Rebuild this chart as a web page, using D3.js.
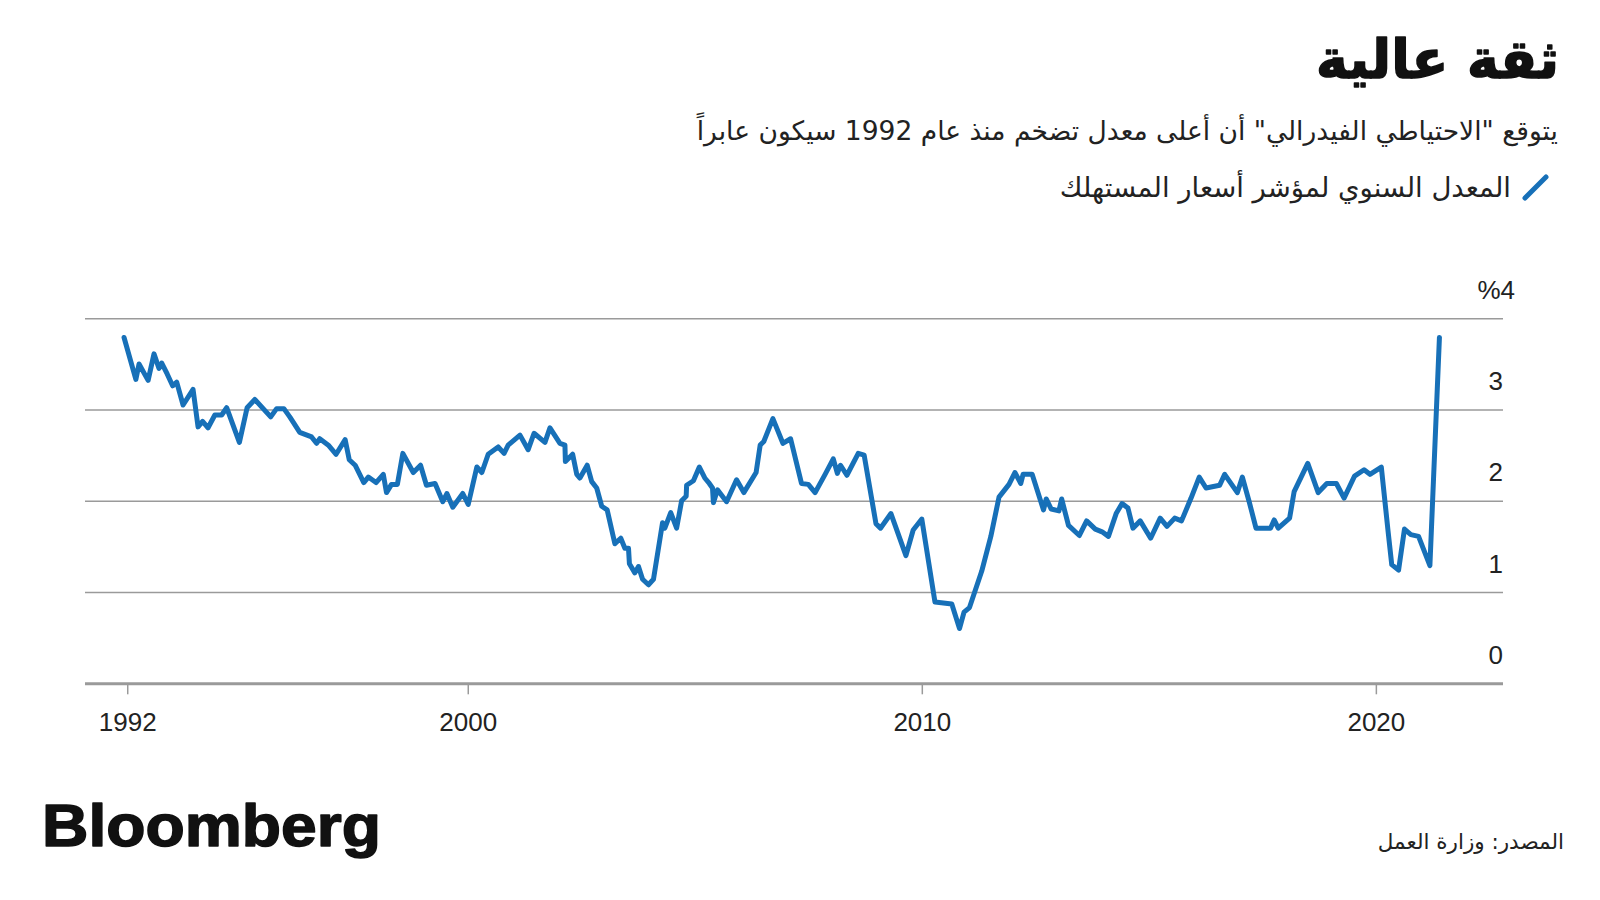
<!DOCTYPE html>
<html><head><meta charset="utf-8">
<script src="https://cdn.jsdelivr.net/npm/d3@7"></script>
<style>body{margin:0;background:#fff} svg{display:block}</style>
</head><body><svg id="c" width="1600" height="900"></svg>
<script>
const titleText = "ثقة عالية";
const subtitleText = "يتوقع \"الاحتياطي الفيدرالي\" أن أعلى معدل تضخم منذ عام 1992 سيكون عابراً";
const legendText = "المعدل السنوي لمؤشر أسعار المستهلك";
const sourceText = "المصدر: وزارة العمل";
const logoText = "Bloomberg";

// decimal years
const dates = [
1992.43,1992.69,1992.76,1992.96,1993.09,1993.20,1993.26,1993.38,1993.50,1993.59,1993.73,1993.95,
1994.06,1994.16,1994.28,1994.43,1994.58,1994.69,1994.97,1995.14,1995.31,1995.66,1995.79,1995.95,
1996.08,1996.30,1996.56,1996.67,1996.74,1996.93,1997.10,1997.30,1997.39,1997.52,1997.71,1997.81,
1997.98,1998.14,1998.21,1998.32,1998.45,1998.57,1998.80,1998.96,1999.09,1999.28,1999.45,1999.54,
1999.67,1999.89,2000.01,2000.20,2000.31,2000.45,2000.67,2000.80,2000.89,2001.15,2001.33,2001.46,
2001.70,2001.81,2002.03,2002.14,2002.15,2002.31,2002.40,2002.47,2002.63,2002.73,2002.84,2002.95,
2003.07,2003.24,2003.37,2003.46,2003.54,2003.56,2003.68,2003.76,2003.85,2003.98,2004.09,2004.29,
2004.34,2004.47,2004.60,2004.71,2004.81,2004.82,2004.97,2005.10,2005.22,2005.32,2005.39,2005.41,
2005.50,2005.70,2005.92,2006.08,2006.35,2006.44,2006.52,2006.72,2006.94,2007.11,2007.35,2007.50,
2007.65,2007.87,2008.05,2008.14,2008.21,2008.35,2008.60,2008.73,2008.99,2009.09,2009.32,2009.65,
2009.81,2010.00,2010.29,2010.66,2010.83,2010.93,2011.05,2011.32,2011.52,2011.70,2011.92,2012.05,
2012.18,2012.23,2012.43,2012.68,2012.74,2012.85,2013.02,2013.08,2013.23,2013.47,2013.63,2013.82,
2013.97,2014.11,2014.28,2014.41,2014.54,2014.65,2014.81,2015.04,2015.25,2015.40,2015.57,2015.72,
2015.93,2016.11,2016.26,2016.56,2016.67,2016.95,2017.06,2017.21,2017.36,2017.68,2017.76,2017.85,
2018.10,2018.20,2018.50,2018.73,2018.92,2019.13,2019.30,2019.53,2019.74,2019.87,2020.12,2020.27,
2020.35,2020.50,2020.63,2020.77,2020.94,2021.19,2021.40
];
// annual rate, percent
const cpi = [
3.79,3.33,3.50,3.32,3.61,3.45,3.51,3.39,3.26,3.30,3.05,3.22,
2.81,2.87,2.80,2.94,2.94,3.02,2.64,3.02,3.11,2.92,3.01,3.01,
2.92,2.75,2.70,2.63,2.68,2.61,2.51,2.67,2.45,2.39,2.20,2.26,
2.20,2.29,2.09,2.18,2.18,2.52,2.31,2.39,2.17,2.19,1.99,2.08,
1.93,2.08,1.96,2.37,2.31,2.51,2.59,2.52,2.61,2.72,2.56,2.74,
2.64,2.80,2.63,2.61,2.43,2.51,2.29,2.25,2.39,2.21,2.14,1.94,
1.90,1.53,1.59,1.48,1.48,1.31,1.21,1.28,1.14,1.08,1.14,1.76,
1.70,1.87,1.70,2.00,2.05,2.17,2.22,2.37,2.25,2.19,2.14,1.98,
2.12,1.99,2.23,2.09,2.31,2.61,2.65,2.90,2.63,2.68,2.19,2.18,
2.09,2.29,2.46,2.30,2.39,2.28,2.52,2.50,1.75,1.70,1.86,1.40,
1.68,1.80,0.89,0.87,0.60,0.78,0.83,1.23,1.61,2.04,2.18,2.31,
2.19,2.29,2.29,1.90,2.02,1.91,1.89,2.02,1.73,1.62,1.78,1.69,
1.66,1.61,1.86,1.97,1.92,1.70,1.78,1.59,1.81,1.72,1.81,1.78,
2.03,2.26,2.14,2.17,2.29,2.09,2.26,1.99,1.70,1.70,1.79,1.70,
1.81,2.10,2.41,2.09,2.19,2.19,2.03,2.27,2.34,2.29,2.37,1.66,
1.30,1.24,1.69,1.63,1.61,1.29,3.79
];

const xTickValues = [1992.5, 2000, 2010, 2020];
const xTickLabels = ["1992", "2000", "2010", "2020"];
const yTickValues = [0, 1, 2, 3, 4];
const yTickLabels = ["0", "1", "2", "3", "%4"];

const svg = d3.select("#c");
const plotLeft = 85, plotRight = 1503, plotTop = 318.3, plotBottom = 683.3;
const arabicFont = "'DejaVu Sans', sans-serif";
const latinFont = "'Liberation Sans', Arial, sans-serif";
const blue = "#1770b8";

const x = d3.scaleLinear().domain([1991.57, 2022.8]).range([plotLeft, plotRight]);
const y = d3.scaleLinear().domain([0, 4]).range([plotBottom, plotTop]);

// Title, subtitle, legend
svg.append("text").attr("x", 1559).attr("y", 78)
  .attr("direction", "rtl").attr("text-anchor", "start")
  .style("font-family", arabicFont).style("font-weight", "bold")
  .style("font-size", "54px").attr("fill", "#111")
  .attr("stroke", "#111").attr("stroke-width", 1.6).attr("stroke-linejoin", "round")
  .text(titleText);

svg.append("text").attr("x", 1558).attr("y", 140)
  .attr("direction", "rtl").attr("text-anchor", "start")
  .style("font-family", arabicFont).style("font-size", "26.5px")
  .attr("fill", "#222").text(subtitleText);

svg.append("line").attr("x1", 1525).attr("y1", 198).attr("x2", 1546).attr("y2", 177)
  .attr("stroke", blue).attr("stroke-width", 5).attr("stroke-linecap", "round");
svg.append("text").attr("x", 1511).attr("y", 197)
  .attr("direction", "rtl").attr("text-anchor", "start")
  .style("font-family", arabicFont).style("font-size", "27.5px")
  .attr("fill", "#222").text(legendText);

// Y gridlines + labels
const yAxis = d3.axisLeft(y).tickValues(yTickValues)
  .tickFormat((d, i) => yTickLabels[i]).tickSize(plotRight - plotLeft);
const gy = svg.append("g").attr("transform", `translate(${plotRight},0)`).call(yAxis);
gy.select(".domain").remove();
gy.selectAll(".tick line").attr("stroke", "#9a9a9a")
  .attr("stroke-width", d => d === 0 ? 3 : 1.5);
gy.selectAll(".tick text").attr("x", d => d === 4 ? 12 : 0).attr("y", -20).attr("dy", null)
  .attr("text-anchor", "end").attr("fill", "#222")
  .style("font-family", latinFont).style("font-size", "26px");

// X axis
const xAxis = d3.axisBottom(x).tickValues(xTickValues)
  .tickFormat((d, i) => xTickLabels[i]).tickSize(11);
const gx = svg.append("g").attr("transform", `translate(0,${plotBottom})`).call(xAxis);
gx.select(".domain").remove();
gx.selectAll(".tick line").attr("stroke", "#9a9a9a").attr("stroke-width", 1.5);
gx.selectAll(".tick text").attr("y", 48).attr("dy", null).attr("fill", "#222")
  .style("font-family", latinFont).style("font-size", "26px");

// Line
const data = dates.map((d, i) => ({ t: d, v: cpi[i] }));
const line = d3.line().x(d => x(d.t)).y(d => y(d.v));
svg.append("path").datum(data).attr("d", line)
  .attr("fill", "none").attr("stroke", blue).attr("stroke-width", 5)
  .attr("stroke-linejoin", "round").attr("stroke-linecap", "round");

// Footer
svg.append("text").attr("x", 42).attr("y", 846)
  .style("font-family", latinFont).style("font-weight", "bold")
  .style("font-size", "60px").attr("fill", "#111")
  .attr("stroke", "#111").attr("stroke-width", 1.5).attr("stroke-linejoin", "round")
  .attr("textLength", 339).attr("lengthAdjust", "spacingAndGlyphs").text(logoText);

svg.append("text").attr("x", 1564).attr("y", 849)
  .attr("direction", "rtl").attr("text-anchor", "start")
  .style("font-family", arabicFont).style("font-size", "21.5px")
  .attr("fill", "#222").text(sourceText);
</script>
</body></html>
